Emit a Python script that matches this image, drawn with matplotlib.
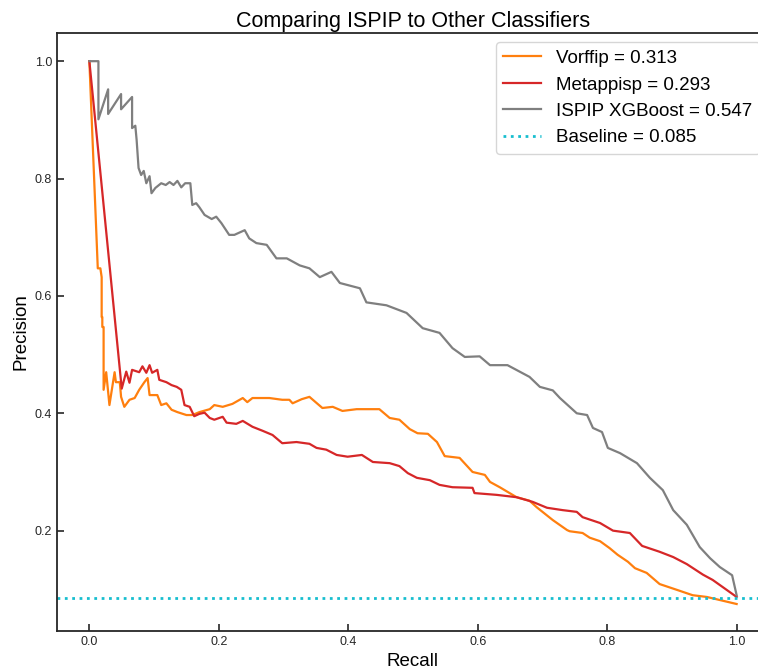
import numpy as np
import matplotlib
matplotlib.use('Agg')
import matplotlib.pyplot as plt

plt.rcParams['font.family'] = ['Liberation Sans', 'DejaVu Sans']

# Vorffip precision-recall curve
vorffip_recall = [0.000, 0.013, 0.017, 0.019, 0.019, 0.020, 0.020, 0.022, 0.022, 0.026, 0.031, 0.039,
                  0.041, 0.047, 0.049, 0.054, 0.062, 0.070, 0.077, 0.085, 0.090, 0.093, 0.105, 0.111,
                  0.119, 0.127, 0.136, 0.150, 0.159, 0.170, 0.186, 0.193, 0.206, 0.221, 0.237, 0.244,
                  0.252, 0.278, 0.298, 0.309, 0.314, 0.328, 0.340, 0.360, 0.376, 0.391, 0.413, 0.448,
                  0.464, 0.479, 0.495, 0.507, 0.523, 0.537, 0.549, 0.572, 0.592, 0.611, 0.619, 0.634,
                  0.660, 0.680, 0.691, 0.716, 0.738, 0.742, 0.762, 0.773, 0.789, 0.804, 0.816, 0.832,
                  0.843, 0.861, 0.881, 0.908, 0.932, 0.954, 1.000]
vorffip_prec = [1.000, 0.647, 0.647, 0.632, 0.564, 0.564, 0.547, 0.547, 0.440, 0.470, 0.414, 0.470,
                0.453, 0.453, 0.428, 0.411, 0.423, 0.426, 0.440, 0.453, 0.460, 0.431, 0.431, 0.414,
                0.417, 0.406, 0.402, 0.397, 0.397, 0.402, 0.407, 0.414, 0.411, 0.416, 0.426, 0.419,
                0.426, 0.426, 0.423, 0.423, 0.417, 0.424, 0.428, 0.409, 0.411, 0.404, 0.407, 0.407,
                0.392, 0.389, 0.373, 0.366, 0.365, 0.351, 0.327, 0.324, 0.300, 0.295, 0.283, 0.274,
                0.257, 0.251, 0.240, 0.218, 0.201, 0.199, 0.196, 0.188, 0.182, 0.170, 0.159, 0.147,
                0.136, 0.128, 0.109, 0.099, 0.090, 0.087, 0.075]

# Metappisp precision-recall curve
meta_recall = [0.000, 0.050, 0.057, 0.062, 0.066, 0.077, 0.082, 0.088, 0.093, 0.097, 0.105, 0.108,
               0.119, 0.127, 0.135, 0.142, 0.147, 0.155, 0.162, 0.170, 0.178, 0.186, 0.193, 0.206,
               0.212, 0.227, 0.237, 0.252, 0.268, 0.283, 0.298, 0.320, 0.340, 0.351, 0.366, 0.382,
               0.399, 0.421, 0.438, 0.464, 0.479, 0.492, 0.506, 0.526, 0.541, 0.561, 0.592, 0.595,
               0.629, 0.660, 0.685, 0.707, 0.731, 0.753, 0.762, 0.789, 0.809, 0.835, 0.854, 0.881,
               0.902, 0.923, 0.948, 0.963, 1.000]
meta_prec = [1.000, 0.442, 0.471, 0.452, 0.474, 0.470, 0.480, 0.469, 0.482, 0.469, 0.474, 0.457,
             0.453, 0.448, 0.445, 0.440, 0.414, 0.411, 0.395, 0.399, 0.401, 0.392, 0.389, 0.394,
             0.384, 0.382, 0.387, 0.377, 0.370, 0.363, 0.349, 0.351, 0.348, 0.341, 0.338, 0.329,
             0.326, 0.329, 0.317, 0.315, 0.310, 0.298, 0.290, 0.286, 0.278, 0.274, 0.273, 0.264,
             0.261, 0.257, 0.249, 0.239, 0.235, 0.232, 0.223, 0.213, 0.200, 0.196, 0.174, 0.164,
             0.155, 0.143, 0.125, 0.116, 0.087]

# ISPIP XGBoost precision-recall curve
ispip_recall = [0.000, 0.014, 0.014, 0.029, 0.029, 0.049, 0.049, 0.066, 0.066, 0.071, 0.073, 0.076,
                0.080, 0.084, 0.088, 0.093, 0.096, 0.102, 0.111, 0.118, 0.124, 0.130, 0.136, 0.142,
                0.148, 0.156, 0.159, 0.165, 0.170, 0.178, 0.189, 0.196, 0.204, 0.216, 0.224, 0.240,
                0.247, 0.258, 0.274, 0.289, 0.305, 0.325, 0.340, 0.356, 0.374, 0.387, 0.418, 0.428,
                0.459, 0.490, 0.515, 0.541, 0.561, 0.580, 0.603, 0.619, 0.646, 0.680, 0.696, 0.716,
                0.727, 0.753, 0.769, 0.778, 0.792, 0.801, 0.820, 0.846, 0.866, 0.886, 0.902, 0.923,
                0.943, 0.959, 0.974, 0.993, 1.000]
ispip_prec = [1.000, 1.000, 0.901, 0.952, 0.910, 0.944, 0.918, 0.939, 0.886, 0.890, 0.866, 0.818,
              0.806, 0.813, 0.792, 0.804, 0.775, 0.784, 0.792, 0.789, 0.794, 0.789, 0.796, 0.785,
              0.792, 0.792, 0.755, 0.758, 0.751, 0.738, 0.731, 0.735, 0.724, 0.704, 0.704, 0.712,
              0.698, 0.690, 0.687, 0.664, 0.664, 0.652, 0.647, 0.632, 0.641, 0.622, 0.613, 0.589,
              0.584, 0.571, 0.545, 0.537, 0.511, 0.496, 0.497, 0.482, 0.482, 0.462, 0.445, 0.439,
              0.426, 0.400, 0.397, 0.375, 0.368, 0.341, 0.332, 0.315, 0.290, 0.269, 0.235, 0.210,
              0.172, 0.153, 0.138, 0.124, 0.090]

baseline = 0.085

fig = plt.figure(figsize=(7.58, 6.70), dpi=100)
ax = fig.add_axes([57/758, 39/670, 712/758, 598/670])

ax.plot(vorffip_recall, vorffip_prec, color='tab:orange', lw=1.6, label='Vorffip = 0.313')
ax.plot(meta_recall, meta_prec, color='tab:red', lw=1.6, label='Metappisp = 0.293')
ax.plot(ispip_recall, ispip_prec, color='tab:gray', lw=1.6, label='ISPIP XGBoost = 0.547')
ax.axhline(baseline, color='tab:cyan', lw=2, linestyle=':', label='Baseline = 0.085')

ax.set_xlim(-0.05, 1.05)
ax.set_ylim(0.029, 1.048)
ax.tick_params(direction='in', length=5, width=1.2, labelsize=9, colors='#262626')
for s in ax.spines.values():
    s.set_linewidth(1.3)
    s.set_color('#262626')

ax.set_title('Comparing ISPIP to Other Classifiers', fontsize=15.5, pad=4)
ax.set_xlabel('Recall', fontsize=13.5)
ax.set_ylabel('Precision', fontsize=13.5)
ax.legend(loc='upper right', fontsize=13.5)

fig.savefig('out.png', dpi=100)
